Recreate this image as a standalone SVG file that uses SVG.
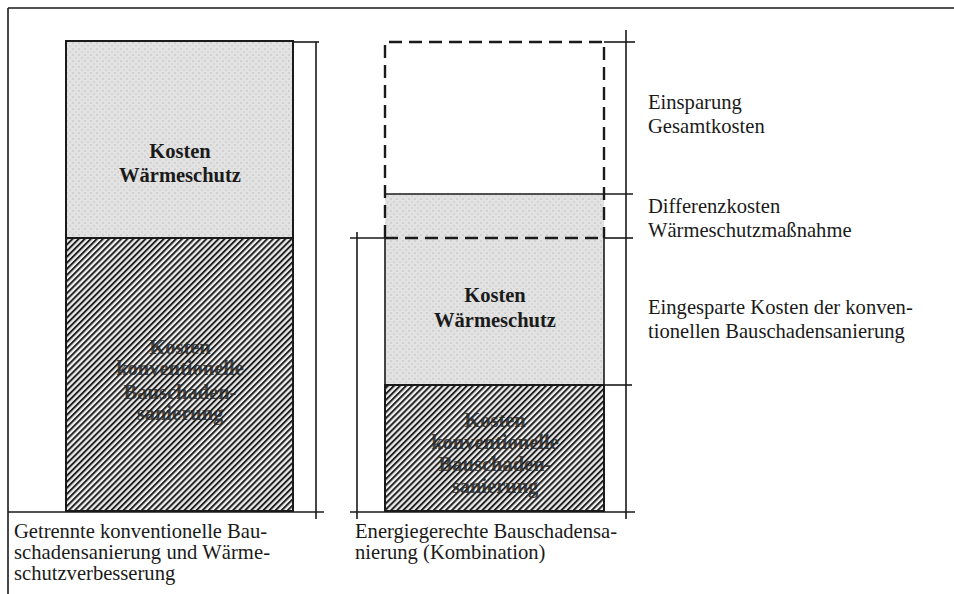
<svg xmlns="http://www.w3.org/2000/svg" width="954" height="594" viewBox="0 0 954 594">
<defs>
<pattern id="hatch" width="4.3" height="4.3" patternUnits="userSpaceOnUse" patternTransform="rotate(45)">
<rect width="4.3" height="4.3" fill="#eeeeee"/>
<line x1="1" y1="0" x2="1" y2="4.3" stroke="#222222" stroke-width="2"/>
</pattern>
<pattern id="dots" width="6" height="6" patternUnits="userSpaceOnUse">
<rect width="6" height="6" fill="#e2e2e2"/>
<circle cx="1" cy="1" r="0.8" fill="#bdbdbd"/>
<circle cx="4" cy="4" r="0.8" fill="#c8c8c8"/>
</pattern>
</defs>
<style>
.ln{stroke:#1a1a1a;stroke-width:1.6;fill:none}
.box{stroke:#1a1a1a;stroke-width:2;}
.dash{stroke:#1a1a1a;stroke-width:2.4;fill:none;stroke-dasharray:13,7}
.bt{font-family:"Liberation Serif","Times New Roman",serif;font-weight:bold;font-size:20.5px;fill:#1a1a1a;text-anchor:middle}
.ht{font-family:"Liberation Serif","Times New Roman",serif;font-weight:bold;font-size:20.5px;fill:#2a2a2a;text-anchor:middle;opacity:0.85}
.t{font-family:"Liberation Serif","Times New Roman",serif;font-size:20.6px;fill:#1a1a1a}
</style>
<rect width="954" height="594" fill="#ffffff"/>
<g id="frame">
<line class="ln" x1="8" y1="8" x2="954" y2="8" stroke-width="2"/>
<line class="ln" x1="8" y1="8" x2="8" y2="594"/>
</g>
<g id="left-warmeschutz">
<rect class="box" x="66" y="41" width="227" height="197" fill="url(#dots)"/>
<text class="bt" x="180" y="158">Kosten</text>
<text class="bt" x="180" y="182">Wärmeschutz</text>
</g>
<g id="left-bauschaden">
<rect class="box" x="66" y="238" width="227" height="273" fill="url(#hatch)"/>
<text class="ht" x="180" y="354">Kosten</text>
<text class="ht" x="180" y="375">konventionelle</text>
<text class="ht" x="180" y="399">Bauschaden-</text>
<text class="ht" x="180" y="420">sanierung</text>
</g>
<g id="right-warmeschutz">
<rect x="385" y="238" width="219" height="147" fill="url(#dots)"/>
<path class="ln" d="M385,238 V385 H604 V238" stroke-width="2"/>
<text class="bt" x="495" y="302">Kosten</text>
<text class="bt" x="495" y="327">Wärmeschutz</text>
</g>
<g id="right-einsparung">
<rect x="385" y="194" width="219" height="44" fill="url(#dots)"/>
<path class="dash" d="M385,238 V42 H604 V238"/>
<line class="dash" x1="385" y1="238" x2="604" y2="238"/>
</g>
<g id="right-bauschaden">
<rect class="box" x="385" y="385" width="219" height="126" fill="url(#hatch)"/>
<text class="ht" x="495" y="427">Kosten</text>
<text class="ht" x="495" y="449">konventionelle</text>
<text class="ht" x="495" y="471">Bauschaden-</text>
<text class="ht" x="495" y="493">sanierung</text>
</g>
<g id="connectors">
<line class="ln" x1="293" y1="42" x2="319" y2="42"/>
<line class="ln" x1="316" y1="42" x2="316" y2="519"/>
<line class="ln" x1="8" y1="512" x2="324" y2="512"/>
<line class="ln" x1="626" y1="30" x2="626" y2="519"/>
<line class="ln" x1="604" y1="42" x2="635" y2="42"/>
<line class="ln" x1="385" y1="194" x2="633" y2="194"/>
<line class="ln" x1="604" y1="238" x2="633" y2="238"/>
<line class="ln" x1="604" y1="385" x2="632" y2="385"/>
<line class="ln" x1="350" y1="238" x2="385" y2="238"/>
<line class="ln" x1="357" y1="232" x2="357" y2="519"/>
<line class="ln" x1="350" y1="512" x2="635" y2="512"/>
</g>
<g id="labels">
<text class="t" x="648" y="109">Einsparung</text>
<text class="t" x="648" y="133">Gesamtkosten</text>
<text class="t" x="648" y="213">Differenzkosten</text>
<text class="t" x="648" y="237">Wärmeschutzmaßnahme</text>
<text class="t" x="648" y="314">Eingesparte Kosten der konven-</text>
<text class="t" x="648" y="338">tionellen Bauschadensanierung</text>
</g>
<g id="captions">
<text class="t" x="14" y="538" textLength="253" lengthAdjust="spacing">Getrennte konventionelle Bau-</text>
<text class="t" x="14" y="559" textLength="256" lengthAdjust="spacing">schadensanierung und Wärme-</text>
<text class="t" x="14" y="580">schutzverbesserung</text>
<text class="t" x="355" y="538" textLength="262" lengthAdjust="spacing">Energiegerechte Bauschadensa-</text>
<text class="t" x="355" y="559">nierung (Kombination)</text>
</g>
</svg>
